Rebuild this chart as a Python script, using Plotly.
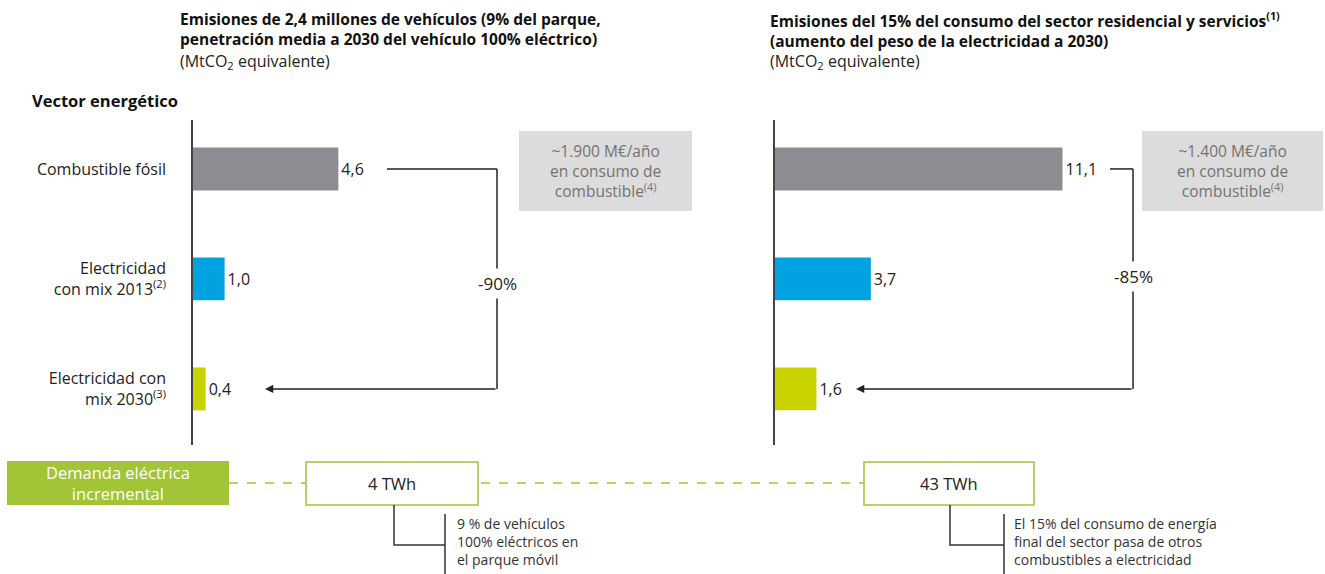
import plotly.graph_objects as go

# datos
vectores = ["Combustible fósil", "Electricidad<br>con mix 2013<sup>(2)</sup>", "Electricidad con<br>mix 2030<sup>(3)</sup>"]
emis_vehiculos = [4.6, 1.0, 0.4]
emis_residencial = [11.1, 3.7, 1.6]
colores = ["#8d8c91", "#00a3e0", "#c9d300"]
reduccion = ["-90%", "-85%"]
ahorro = ["~1.900 M€/año<br>en consumo de<br>combustible<sup>(4)</sup>",
          "~1.400 M€/año<br>en consumo de<br>combustible<sup>(4)</sup>"]
demanda = ["4 TWh", "43 TWh"]
notas = ["9 % de vehículos<br>100% eléctricos en<br>el parque móvil",
         "El 15% del consumo de energía<br>final del sector pasa de otros<br>combustibles a electricidad"]

W, H = 1325, 574
FONT = "Open Sans, Roboto, Liberation Sans, Arial, sans-serif"


def px(x):
    return x / W


def py(y):
    return 1 - y / H


def fmt(v):
    return f"{v:.1f}".replace(".", ",")


fig = go.Figure()
fig.add_trace(go.Bar(x=emis_vehiculos, y=vectores, orientation="h", marker=dict(color=colores, line=dict(width=0)),
                     width=0.39, text=[fmt(v) for v in emis_vehiculos], textposition="outside",
                     textfont=dict(size=16, color="#222"), cliponaxis=False, hoverinfo="skip",
                     xaxis="x", yaxis="y"))
fig.add_trace(go.Bar(x=emis_residencial, y=vectores, orientation="h", marker=dict(color=colores, line=dict(width=0)),
                     width=0.39, text=[fmt(v) for v in emis_residencial], textposition="outside",
                     textfont=dict(size=16, color="#222"), cliponaxis=False, hoverinfo="skip",
                     xaxis="x2", yaxis="y2"))

yax = dict(domain=[py(445), py(120)], type="category", categoryarray=vectores, range=[2.51, -0.445],
           showline=True, linecolor="#444", linewidth=1.5, showgrid=False, zeroline=False, fixedrange=True)
fig.update_layout(
    width=W, height=H,
    margin=dict(l=0, r=0, t=0, b=0),
    paper_bgcolor="white", plot_bgcolor="white",
    showlegend=False,
    font=dict(family=FONT, size=15, color="#222"),
    xaxis=dict(domain=[px(193), px(510)], range=[0, (510 - 193) / 31.6], visible=False, fixedrange=True),
    yaxis=dict(**yax, anchor="x", ticks="outside", ticklen=22, tickcolor="rgba(0,0,0,0)",
               tickfont=dict(size=16, color="#222")),
    xaxis2=dict(domain=[px(775), px(1140)], range=[0, (1140 - 775) / 25.9], visible=False, fixedrange=True),
    yaxis2=dict(**yax, anchor="x2", showticklabels=False, ticks=""),
)

shapes = []
ann = []


def texto(x, y, t, xa="center", ya="middle", **kw):
    d = dict(x=px(x), y=py(y), xref="paper", yref="paper", xanchor=xa, yanchor=ya, text=t, showarrow=False)
    d.update(kw)
    ann.append(d)


# titulos
titulos = [(178, "<b>Emisiones de 2,4 millones de vehículos (9% del parque,<br>penetración media a 2030 del vehículo 100% eléctrico)</b>"),
           (768, "<b>Emisiones del 15% del consumo del sector residencial y servicios<sup>(1)</sup><br>(aumento del peso de la electricidad a 2030)</b>")]
for x, t in titulos:
    texto(x, 6, t, "left", "top", align="left", font=dict(size=15.5, color="#111"))
    texto(x, 48, "(MtCO<sub>2</sub> equivalente)", "left", "top", align="left", font=dict(size=16, color="#222"))
texto(30, 100, "<b>Vector energético</b>", "left", "middle", font=dict(size=16.5, color="#111"))

# conectores de reduccion
conect = [(387, 497, 265, "y", 283), (1110, 1133, 856, "y2", 276)]
for i, (x0, xv, xa, yr, ylab) in enumerate(conect):
    shapes.append(dict(type="line", xref="paper", yref=yr, x0=px(x0), x1=px(xv),
                       y0=vectores[0], y1=vectores[0], line=dict(color="#222", width=1.5)))
    shapes.append(dict(type="line", xref="paper", yref=yr, x0=px(xv), x1=px(xv),
                       y0=vectores[0], y1=vectores[2], line=dict(color="#222", width=1.5)))
    ann.append(dict(x=px(xa), y=vectores[2], xref="paper", yref=yr, ax=xv - xa, ay=0,
                    showarrow=True, arrowhead=2, arrowsize=1.1, arrowwidth=1.5, arrowcolor="#222", text=""))
    texto(xv, ylab, reduccion[i], bgcolor="white", borderpad=3, font=dict(size=17, color="#222"))

# cajas de ahorro
for i, (x0, x1) in enumerate([(519, 692), (1142, 1323)]):
    shapes.append(dict(type="rect", xref="paper", yref="paper", x0=px(x0), x1=px(x1), y0=py(131), y1=py(211),
                       fillcolor="#dcdcdc", line=dict(width=0), layer="below"))
    texto((x0 + x1) / 2, 171, ahorro[i], align="center", font=dict(size=15.5, color="#737373"))

# demanda electrica incremental
shapes.append(dict(type="line", xref="paper", yref="paper", x0=px(229), x1=px(864), y0=py(483), y1=py(483),
                   line=dict(color="#a2c437", width=1.5, dash="dash")))
shapes.append(dict(type="rect", xref="paper", yref="paper", x0=px(7), x1=px(229), y0=py(461), y1=py(505),
                   fillcolor="#a2c437", line=dict(width=0)))
texto(118, 483, "Demanda eléctrica<br>incremental", font=dict(size=16.5, color="white"))

cajas = [(306, 478, 394, 445, 455), (864, 1034, 950, 1004, 1012)]
for i, (x0, x1, xb, xt, xtx) in enumerate(cajas):
    shapes.append(dict(type="rect", xref="paper", yref="paper", x0=px(x0), x1=px(x1), y0=py(462), y1=py(505),
                       fillcolor="white", line=dict(color="#a2c437", width=1.5)))
    texto((x0 + x1) / 2, 483, demanda[i], font=dict(size=16.5, color="#222"))
    shapes.append(dict(type="path", xref="paper", yref="paper",
                       path=f"M {px(xb)},{py(505)} L {px(xb)},{py(545)} L {px(xt)},{py(545)}",
                       line=dict(color="#333", width=1.5)))
    shapes.append(dict(type="line", xref="paper", yref="paper", x0=px(xt), x1=px(xt), y0=py(514), y1=py(574),
                       line=dict(color="#333", width=1.5)))
    texto(xtx, 512, notas[i], "left", "top", align="left", font=dict(size=14, color="#333"))

fig.update_layout(shapes=shapes, annotations=ann)

fig.write_html("out.html", config={"displayModeBar": False},
               post_script="document.body.style.margin='0px';")
